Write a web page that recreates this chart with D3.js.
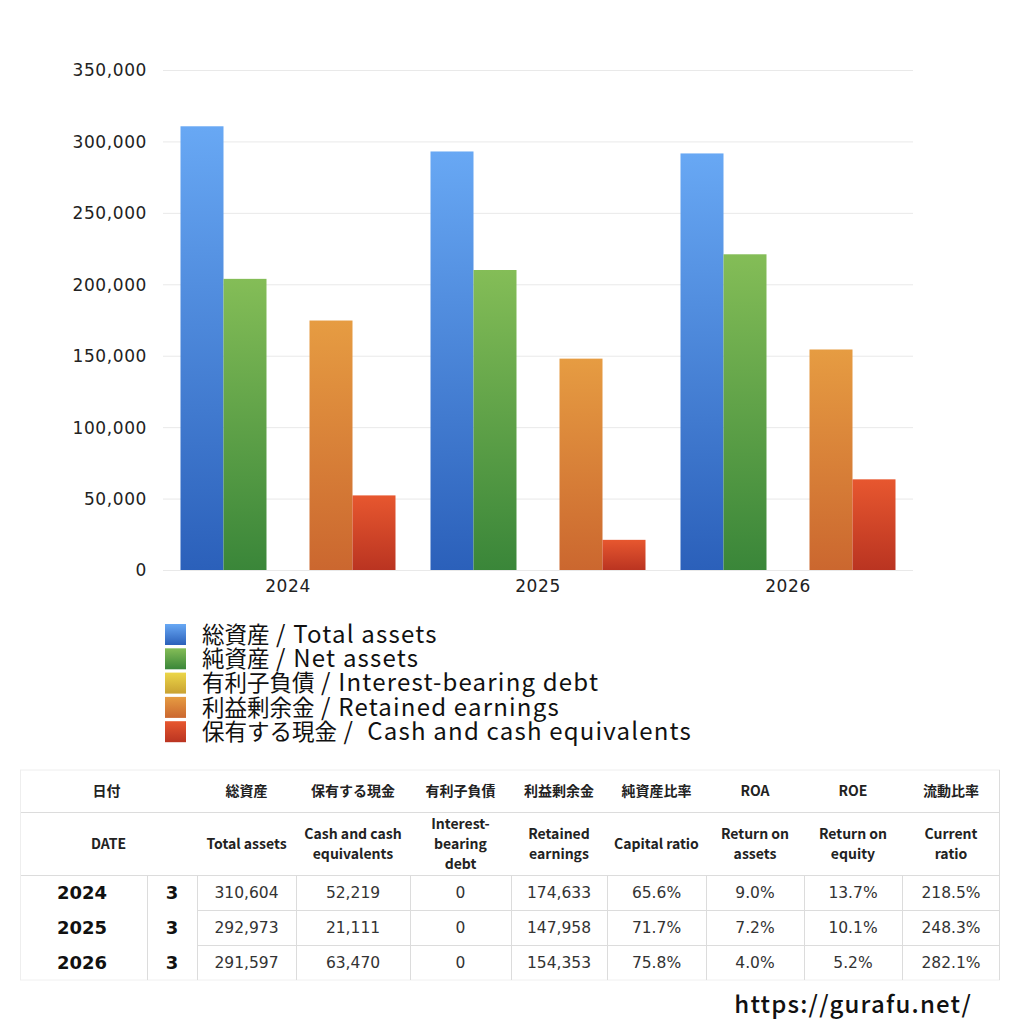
<!DOCTYPE html>
<html>
<head>
<meta charset="utf-8">
<script src="https://cdn.jsdelivr.net/npm/d3@7"></script>
<style>
  body { margin: 0; background: #fff; }
  text { font-family: "Noto Sans CJK JP", "Noto Sans", sans-serif; }
  .num { font-family: "DejaVu Sans", sans-serif; }
</style>
</head>
<body>
<div id="root"></div>
<script>
// chart data
var years = ["2024", "2025", "2026"];
var months = ["3", "3", "3"];
var seriesNames = [
    "総資産 / Total assets",
    "純資産 / Net assets",
    "有利子負債 / Interest-bearing debt",
    "利益剰余金 / Retained earnings",
    "保有する現金 /  Cash and cash equivalents"
];
var totalAssets = [310604, 292973, 291597];
var netAssets = [203800, 210000, 221000];
var interestDebt = [0, 0, 0];
var retainedEarnings = [174633, 147958, 154353];
var cash = [52219, 21111, 63470];
var yTicks = [0, 50000, 100000, 150000, 200000, 250000, 300000, 350000];

// table data
var headJa = ["総資産", "保有する現金", "有利子負債", "利益剰余金", "純資産比率", "ROA", "ROE", "流動比率"];
var headEn = [["Total assets"], ["Cash and cash", "equivalents"], ["Interest-", "bearing", "debt"],
    ["Retained", "earnings"], ["Capital ratio"], ["Return on", "assets"], ["Return on", "equity"], ["Current", "ratio"]];
var capitalRatio = ["65.6%", "71.7%", "75.8%"];
var roa = ["9.0%", "7.2%", "4.0%"];
var roe = ["13.7%", "10.1%", "5.2%"];
var currentRatio = ["218.5%", "248.3%", "282.1%"];

var seriesValues = [totalAssets, netAssets, interestDebt, retainedEarnings, cash];
var gradColors = [
    ["#68a8f4", "#2b60ba"],
    ["#84bd57", "#3a8639"],
    ["#ecd648", "#c9a232"],
    ["#e69c42", "#cb672f"],
    ["#e7572f", "#ba3421"]
];

var svg = d3.select("#root").append("svg")
    .attr("width", 1024)
    .attr("height", 1024);

var defs = svg.append("defs");
gradColors.forEach(function(c, i){
    var g = defs.append("linearGradient")
        .attr("id", "grad" + i)
        .attr("x1", 0).attr("y1", 0).attr("x2", 0).attr("y2", 1);
    g.append("stop").attr("offset", "0%").attr("stop-color", c[0]);
    g.append("stop").attr("offset", "100%").attr("stop-color", c[1]);
});

var plotLeft = 163, plotRight = 913, plotTop = 70, plotBottom = 570;

var x0 = d3.scaleBand().domain(years).range([plotLeft, plotRight]).paddingInner(0.14).paddingOuter(0.07);
var x1 = d3.scaleBand().domain(d3.range(seriesValues.length)).range([0, x0.bandwidth()]);
var y = d3.scaleLinear().domain([0, 350000]).range([plotBottom, plotTop]);

// gridlines
svg.append("g").selectAll("line")
    .data(yTicks)
    .enter().append("line")
    .attr("x1", plotLeft).attr("x2", plotRight)
    .attr("y1", function(d){ return y(d) + 0.5; })
    .attr("y2", function(d){ return y(d) + 0.5; })
    .attr("stroke", "#e9e9e9");

var yAxis = svg.append("g")
    .attr("transform", "translate(" + (plotLeft - 13) + ",0)")
    .call(d3.axisLeft(y).tickValues(yTicks).tickSize(0).tickFormat(d3.format(",")));
yAxis.select(".domain").remove();
yAxis.selectAll("text")
    .attr("class", "num")
    .attr("font-size", 17)
    .attr("letter-spacing", 0.6)
    .attr("fill", "#222")
    .attr("dy", "0.35em");

var xAxis = svg.append("g")
    .attr("transform", "translate(0," + plotBottom + ")")
    .call(d3.axisBottom(x0).tickSize(0));
xAxis.select(".domain").remove();
xAxis.selectAll("text")
    .attr("class", "num")
    .attr("font-size", 17)
    .attr("letter-spacing", 0.6)
    .attr("fill", "#222")
    .attr("dy", "1.1em");

// bars
var groups = svg.append("g").selectAll("g")
    .data(years)
    .enter().append("g")
    .attr("transform", function(d){ return "translate(" + x0(d) + ",0)"; });

groups.selectAll("rect")
    .data(function(d, i){
        return seriesValues.map(function(s, k){ return {k: k, v: s[i]}; });
    })
    .enter().append("rect")
    .attr("x", function(d){ return x1(d.k); })
    .attr("width", x1.bandwidth())
    .attr("y", function(d){ return y(d.v); })
    .attr("height", function(d){ return plotBottom - y(d.v); })
    .attr("fill", function(d){ return "url(#grad" + d.k + ")"; });

// legend
var legend = svg.append("g").attr("transform", "translate(165,624)");
var li = legend.selectAll("g")
    .data(seriesNames)
    .enter().append("g")
    .attr("transform", function(d, i){ return "translate(0," + (i * 24.3) + ")"; });
li.append("rect")
    .attr("width", 21).attr("height", 21)
    .attr("fill", function(d, i){ return "url(#grad" + i + ")"; });
var lt = li.append("text")
    .attr("x", 37).attr("y", 13)
    .attr("dy", "0.36em")
    .attr("fill", "#111")
    .style("white-space", "pre");
lt.append("tspan")
    .attr("font-size", 22.5)
    .text(function(d){ return d.slice(0, d.indexOf(" /")); });
lt.append("tspan")
    .attr("font-size", 24)
    .attr("letter-spacing", 1.2)
    .text(function(d){ return d.slice(d.indexOf(" /")); });

// table
var colX = [20, 147, 197, 296, 410, 511, 607, 706, 804, 902, 1000];
var rowY = [770, 812, 875, 910, 945, 980];
var t = svg.append("g");
var lineColor = "#dcdcdc";

t.append("line").attr("x1", colX[0]).attr("x2", colX[10]).attr("y1", rowY[0]).attr("y2", rowY[0]).attr("stroke", "#eee");
[rowY[1], rowY[2]].forEach(function(yy){
    t.append("line").attr("x1", colX[0]).attr("x2", colX[10]).attr("y1", yy + 0.5).attr("y2", yy + 0.5).attr("stroke", lineColor);
});
[rowY[3], rowY[4]].forEach(function(yy){
    t.append("line").attr("x1", colX[2]).attr("x2", colX[10]).attr("y1", yy + 0.5).attr("y2", yy + 0.5).attr("stroke", lineColor);
});
t.append("line").attr("x1", colX[0]).attr("x2", colX[10]).attr("y1", rowY[5]).attr("y2", rowY[5]).attr("stroke", "#f0f0f0");
t.append("line").attr("x1", colX[0] + 0.5).attr("x2", colX[0] + 0.5).attr("y1", rowY[0]).attr("y2", rowY[5]).attr("stroke", "#eee");
t.append("line").attr("x1", colX[10] - 0.5).attr("x2", colX[10] - 0.5).attr("y1", rowY[0]).attr("y2", rowY[5]).attr("stroke", lineColor);
colX.slice(1, 10).forEach(function(xx){
    t.append("line").attr("x1", xx + 0.5).attr("x2", xx + 0.5).attr("y1", rowY[2]).attr("y2", rowY[5]).attr("stroke", lineColor);
});

// header rows
t.append("text").attr("x", (colX[0] + colX[2]) / 2 - 2).attr("y", (rowY[0] + rowY[1]) / 2)
    .attr("dy", "0.36em").attr("text-anchor", "middle").attr("font-size", 14).attr("font-weight", "bold")
    .attr("fill", "#222").text("日付");
t.append("text").attr("x", (colX[0] + colX[2]) / 2).attr("y", (rowY[1] + rowY[2]) / 2)
    .attr("dy", "0.36em").attr("text-anchor", "middle").attr("font-size", 14).attr("font-weight", "bold")
    .attr("fill", "#222").text("DATE");
headJa.forEach(function(h, i){
    var cx = (colX[i + 2] + colX[i + 3]) / 2;
    t.append("text").attr("x", cx).attr("y", (rowY[0] + rowY[1]) / 2)
        .attr("dy", "0.36em").attr("text-anchor", "middle").attr("font-size", 14).attr("font-weight", "bold")
        .attr("fill", "#222").text(h);
    var lines = headEn[i];
    var mid = (rowY[1] + rowY[2]) / 2;
    lines.forEach(function(l, j){
        t.append("text").attr("x", cx).attr("y", mid + (j - (lines.length - 1) / 2) * 20)
            .attr("dy", "0.36em").attr("text-anchor", "middle").attr("font-size", 14).attr("font-weight", "bold")
            .attr("fill", "#222").text(l);
    });
});

// data rows
var fmt = d3.format(",");
years.forEach(function(yr, r){
    var cy = (rowY[r + 2] + rowY[r + 3]) / 2;
    var cells = [fmt(totalAssets[r]), fmt(cash[r]), fmt(interestDebt[r]), fmt(retainedEarnings[r]),
        capitalRatio[r], roa[r], roe[r], currentRatio[r]];
    t.append("text").attr("class", "num").attr("x", 57).attr("y", cy).attr("dy", "0.36em")
        .attr("font-size", 18).attr("font-weight", "bold").attr("fill", "#111").text(yr);
    t.append("text").attr("class", "num").attr("x", (colX[1] + colX[2]) / 2).attr("y", cy).attr("dy", "0.36em")
        .attr("text-anchor", "middle").attr("font-size", 18).attr("font-weight", "bold").attr("fill", "#111").text(months[r]);
    cells.forEach(function(c, i){
        t.append("text").attr("class", "num").attr("x", (colX[i + 2] + colX[i + 3]) / 2).attr("y", cy).attr("dy", "0.36em")
            .attr("text-anchor", "middle").attr("font-size", 15.5).attr("fill", "#333").text(c);
    });
});

svg.append("text")
    .attr("x", 972).attr("y", 1004)
    .attr("dy", "0.36em")
    .attr("text-anchor", "end")
    .attr("font-size", 24)
    .attr("font-weight", 500)
    .attr("letter-spacing", 1.2)
    .attr("fill", "#111")
    .text("https://gurafu.net/");
</script>
</body>
</html>
